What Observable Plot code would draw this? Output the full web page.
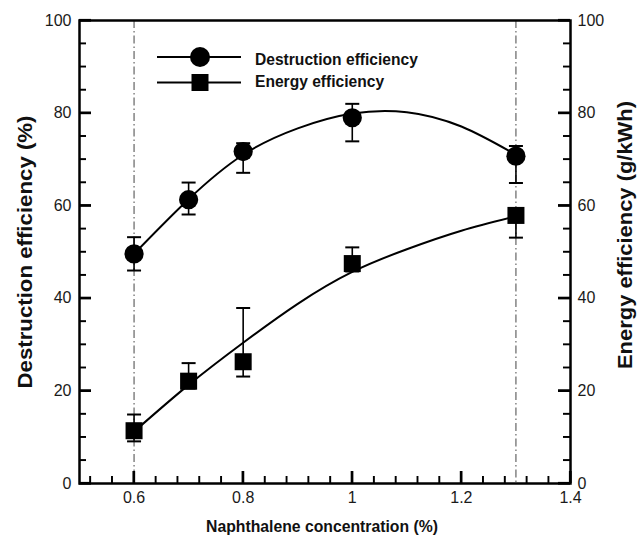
<!DOCTYPE html>
<html><head><meta charset="utf-8">
<script src="https://cdn.jsdelivr.net/npm/d3@7"></script>
<script src="https://cdn.jsdelivr.net/npm/@observablehq/plot@0.6"></script>
<style>
html,body{margin:0;padding:0;background:#fff;}
#wrap{position:relative;width:637px;height:538px;}
#wrap svg{font-family:"Liberation Sans",Arial,sans-serif;}
#overlay{position:absolute;left:0;top:0;pointer-events:none;}
</style></head><body><div id="wrap"></div>
<script>
// ---- data ----
const conc = [0.6, 0.7, 0.8, 1.0, 1.3];
const destruction = [49.6, 61.3, 71.7, 79.0, 70.7];
const destructionLow = [46.0, 58.1, 67.1, 73.9, 64.9];
const destructionHigh = [53.2, 65.0, 73.5, 82.0, 72.9];
const energy = [11.4, 22.1, 26.3, 47.5, 57.9];
const energyLow = [9.1, 20.5, 23.1, 45.8, 53.1];
const energyHigh = [14.9, 26.0, 37.9, 51.0, 59.5];
// fitted curves
const fitConc = [0.6, 0.7, 0.8, 0.9, 1.0, 1.1, 1.2, 1.3];
const destructionFit = [49.6, 61.4, 71.0, 76.7, 79.9, 80.2, 77.1, 71.0];
const energyFit = [11.2, 21.3, 30.4, 38.8, 45.7, 50.6, 54.6, 57.7];
const refLines = [0.6, 1.3];
const xTicks = [0.6, 0.8, 1, 1.2, 1.4];
const xMinorTicks = [0.52, 0.56, 0.64, 0.68, 0.72, 0.76, 0.84, 0.88, 0.92, 0.96, 1.04, 1.08, 1.12, 1.16, 1.24, 1.28, 1.32, 1.36];
const yTicks = [0, 20, 40, 60, 80, 100];
const yMinorTicks = [5, 10, 15, 25, 30, 35, 45, 50, 55, 65, 70, 75, 85, 90, 95];
const seriesNames = ["Destruction efficiency", "Energy efficiency"];
const seriesSymbols = ["circle", "square"];
const xTitle = "Naphthalene concentration (%)";
const yTitleLeft = "Destruction efficiency (%)";
const yTitleRight = "Energy efficiency (g/kWh)";

// ---- layout ----
const W = 637, H = 538, mL = 79, mR = 67, mT = 20, mB = 55;
const plotW = W - mL - mR, plotH = H - mT - mB;

// ---- tables ----
const points = [];
conc.forEach((c, i) => {
  points.push({c, v: destruction[i], lo: destructionLow[i], hi: destructionHigh[i], s: seriesNames[0]});
  points.push({c, v: energy[i], lo: energyLow[i], hi: energyHigh[i], s: seriesNames[1]});
});
const fits = [];
fitConc.forEach((c, i) => {
  fits.push({c, v: destructionFit[i], s: seriesNames[0]});
  fits.push({c, v: energyFit[i], s: seriesNames[1]});
});
const capSymbol = {draw(ctx, size) { const w = Math.sqrt(size / Math.PI); ctx.moveTo(-w, 0); ctx.lineTo(w, 0); }};
const inTicks = (data, side, len, sw) => {
  const o = {stroke: "#000", strokeWidth: sw};
  if (side === "bottom") return Plot.tickX(data, {...o, x: d => d, insetTop: plotH - len});
  if (side === "left") return Plot.tickY(data, {...o, y: d => d, insetRight: plotW - len});
  return Plot.tickY(data, {...o, y: d => d, insetLeft: plotW - len});
};

const chart = Plot.plot({
  width: W, height: H,
  marginLeft: mL, marginRight: mR, marginTop: mT, marginBottom: mB,
  style: {fontFamily: '"Liberation Sans", Arial, sans-serif', color: "#1a1a1a", background: "#fff"},
  x: {domain: [0.5, 1.4]},
  y: {domain: [0, 100]},
  symbol: {domain: seriesNames, range: seriesSymbols},
  marks: [
    Plot.ruleX(refLines, {stroke: "#444", strokeWidth: 1, strokeDasharray: "8,3,1.5,3"}),
    Plot.line(fits, {x: "c", y: "v", z: "s", curve: "natural", stroke: "black", strokeWidth: 2}),
    Plot.ruleX(points, {x: "c", y1: "lo", y2: "hi", stroke: "black", strokeWidth: 1.6}),
    Plot.dot(points, {x: "c", y: "lo", symbol: capSymbol, r: 7, stroke: "black", strokeWidth: 2, fill: "none"}),
    Plot.dot(points, {x: "c", y: "hi", symbol: capSymbol, r: 7, stroke: "black", strokeWidth: 2, fill: "none"}),
    Plot.dot(points, {x: "c", y: "v", symbol: "s", r: 9.6, fill: "black", stroke: "none"}),
    Plot.axisX(xTicks, {tickSize: 0, tickPadding: 8, tickFormat: d => String(d), fontSize: 16, label: null}),
    Plot.axisY(yTicks, {anchor: "left", tickSize: 0, tickPadding: 8, fontSize: 16, label: null}),
    Plot.axisY(yTicks, {anchor: "right", tickSize: 0, tickPadding: 7, fontSize: 16, label: null}),
    Plot.frame({stroke: "black", strokeWidth: 2.5}),
    inTicks(xTicks, "bottom", 12, 2.2),
    inTicks(xMinorTicks, "bottom", 7, 1.4),
    inTicks(yTicks, "left", 12, 2.2),
    inTicks(yMinorTicks, "left", 7, 1.4),
    inTicks(yTicks, "right", 12, 2.2),
    inTicks(yMinorTicks, "right", 7, 1.4)
  ]
});
const wrap = document.getElementById("wrap");
wrap.appendChild(chart);

// overlay: inward ticks from Plot's scales, legend and axis titles
const sx = chart.scale("x"), sy = chart.scale("y");
const ov = d3.select(wrap).append("svg").attr("id", "overlay").attr("width", W).attr("height", H)
  .attr("font-family", '"Liberation Sans", Arial, sans-serif').attr("font-weight", "bold").attr("fill", "#111");
const tk = ov.append("g").attr("stroke", "#000");
const addX = (vals, len, sw) => vals.forEach(v => {
  const px = sx.apply(v);
  tk.append("line").attr("x1", px).attr("x2", px).attr("y1", H - mB).attr("y2", H - mB - len).attr("stroke-width", sw);
});
const addY = (vals, len, sw) => vals.forEach(v => {
  const py = sy.apply(v);
  tk.append("line").attr("x1", mL).attr("x2", mL + len).attr("y1", py).attr("y2", py).attr("stroke-width", sw);
  tk.append("line").attr("x1", W - mR).attr("x2", W - mR - len).attr("y1", py).attr("y2", py).attr("stroke-width", sw);
});
addX(xTicks, 12, 2.2); addX(xMinorTicks, 7, 1.4);
addY(yTicks, 12, 2.2); addY(yMinorTicks, 7, 1.4);

const legendRows = [{line: 57, text: 65}, {line: 82.5, text: 87}];
seriesNames.forEach((name, i) => {
  const r = legendRows[i];
  ov.append("line").attr("x1", 157).attr("x2", 241).attr("y1", r.line).attr("y2", r.line).attr("stroke", "black").attr("stroke-width", 2);
  const sym = seriesSymbols[i] === "circle" ? d3.symbolCircle : d3.symbolSquare;
  const size = seriesSymbols[i] === "circle" ? Math.PI * 10 * 10 : 17 * 17;
  ov.append("path").attr("transform", `translate(200,${r.line})`).attr("d", d3.symbol(sym, size)()).attr("fill", "black");
  ov.append("text").attr("x", 255).attr("y", r.text).attr("font-size", 15.6).text(name);
});
ov.append("text").attr("x", 322).attr("y", 532).attr("text-anchor", "middle").attr("font-size", 17)
  .attr("textLength", 232).attr("lengthAdjust", "spacingAndGlyphs").text(xTitle);
ov.append("text").attr("transform", "translate(32,252) rotate(-90)").attr("text-anchor", "middle").attr("font-size", 20)
  .attr("textLength", 273).attr("lengthAdjust", "spacingAndGlyphs").text(yTitleLeft);
ov.append("text").attr("transform", "translate(632,235) rotate(-90)").attr("text-anchor", "middle").attr("font-size", 20)
  .attr("textLength", 268).attr("lengthAdjust", "spacingAndGlyphs").text(yTitleRight);
</script></body></html>
